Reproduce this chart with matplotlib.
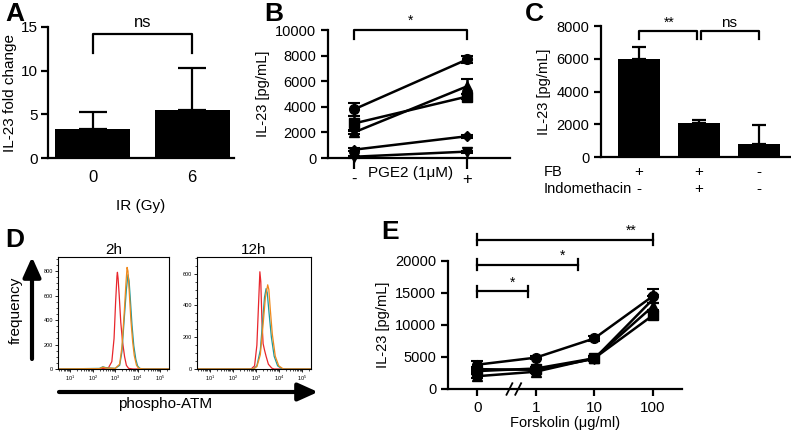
import matplotlib.pyplot as plt
import numpy as np

plt.rcParams['font.family'] = ['Liberation Sans', 'DejaVu Sans']
plt.rcParams['font.size'] = 10.5
plt.rcParams['axes.linewidth'] = 1.6
plt.rcParams['xtick.major.width'] = 1.6
plt.rcParams['ytick.major.width'] = 1.6
plt.rcParams['xtick.major.size'] = 5
plt.rcParams['ytick.major.size'] = 5

# ---- panel A: IL-23 fold change vs IR dose
a_labels = ['0', '6']
a_vals = [3.3, 5.5]
a_err = [2.0, 4.8]

# ---- panel B: paired donors, PGE2
b_labels = ['-', '+']
b_markers = ['o', 's', '^', 'D', 'v']
b_minus = [3800, 2700, 2000, 650, 100]
b_plus = [7700, 4800, 5600, 1700, 500]
b_minus_err = [500, 600, 150, 100, 80]
b_plus_err = [300, 200, 600, 100, 80]

# ---- panel C: FB / indomethacin
c_vals = [6000, 2080, 820]
c_err = [720, 200, 1120]
c_fb = ['+', '+', '-']
c_indo = ['-', '+', '-']

# ---- panel D: phospho-ATM flow histograms (x = log10 intensity)
d2_red_x = [0.45, 2.3, 2.7, 2.85, 2.95, 3.02, 3.08, 3.1, 3.13, 3.18, 3.25, 3.33, 3.42, 3.5, 3.6, 3.8, 5.4]
d2_red_y = [0, 0, 10, 60, 250, 550, 760, 790, 740, 600, 380, 220, 100, 30, 5, 0, 0]
d2_org_x = [0.45, 2.3, 2.45, 2.6, 3.0, 3.2, 3.3, 3.4, 3.48, 3.53, 3.57, 3.63, 3.7, 3.78, 3.85, 3.95, 4.05, 4.3, 5.4]
d2_org_y = [0, 3, 15, 8, 5, 40, 180, 450, 700, 830, 800, 620, 400, 220, 110, 30, 5, 0, 0]
d2_teal_x = [0.45, 2.3, 2.45, 2.6, 3.0, 3.2, 3.3, 3.4, 3.5, 3.57, 3.62, 3.68, 3.75, 3.83, 3.92, 4.0, 4.1, 4.3, 5.4]
d2_teal_y = [0, 5, 18, 10, 5, 30, 140, 400, 650, 770, 720, 560, 360, 190, 80, 25, 5, 0, 0]

d12_red_x = [0.45, 2.8, 2.95, 3.05, 3.12, 3.18, 3.22, 3.27, 3.32, 3.38, 3.45, 3.55, 3.7, 3.8, 5.4]
d12_red_y = [0, 0, 20, 150, 400, 612, 550, 300, 160, 120, 80, 30, 5, 0, 0]
d12_teal_x = [0.45, 2.9, 3.05, 3.2, 3.3, 3.38, 3.45, 3.5, 3.58, 3.68, 3.8, 3.95, 4.15, 5.4]
d12_teal_y = [0, 0, 20, 120, 300, 450, 506, 480, 350, 200, 80, 20, 0, 0]
d12_org_x = [0.45, 2.9, 3.05, 3.2, 3.32, 3.42, 3.52, 3.57, 3.63, 3.72, 3.85, 4.0, 4.2, 5.4]
d12_org_y = [0, 0, 15, 90, 280, 450, 530, 500, 380, 220, 80, 20, 0, 0]

# ---- panel E: forskolin dose
e_labels = ['0', '1', '10', '100']
e_markers = ['o', 's', '^', 'v']
e_vals = [[3800, 4900, 7900, 14500],
          [2800, 3200, 4800, 11500],
          [2000, 2700, 4800, 12900],
          [3100, 3000, 4700, 14000]]
e_err = [[500, 200, 400, 1100],
         [300, 300, 300, 500],
         [300, 200, 300, 500],
         [300, 300, 300, 500]]

W, H = 791, 430
fig = plt.figure(figsize=(W / 100, H / 100), dpi=100)


def box(l, t, r, b):
    return [l / W, 1 - b / H, (r - l) / W, (b - t) / H]


def clean(ax):
    ax.spines['top'].set_visible(False)
    ax.spines['right'].set_visible(False)


def bracket(ax, x0, x1, y, leg):
    ax.plot([x0, x0, x1, x1], [y - leg, y, y, y - leg], color='k', lw=1.6, clip_on=False)


# A
ax = fig.add_axes(box(48, 27, 234, 158))
clean(ax)
ax.bar([0, 1], a_vals, width=0.75, color='k')
ax.errorbar([0, 1], a_vals, yerr=[[0, 0], a_err], fmt='none', ecolor='k',
            elinewidth=1.6, capsize=10, capthick=1.6)
ax.set_xlim(-0.45, 1.42)
ax.set_ylim(0, 15)
ax.set_yticks([0, 5, 10, 15])
ax.set_xticks([0, 1], a_labels)
ax.tick_params(axis='x', length=0, pad=9, labelsize=12)
ax.tick_params(axis='y', labelsize=11, pad=2)
ax.set_xlabel('IR (Gy)', fontsize=11, labelpad=10)
ax.set_ylabel('IL-23 fold change', fontsize=11, labelpad=3)
bracket(ax, 0, 1, 14.2, 2.2)
ax.text(0.5, 14.6, 'ns', ha='center', va='bottom', fontsize=12)

# B
ax = fig.add_axes(box(328, 30, 510, 158))
clean(ax)
for m, y0, y1, e0, e1 in zip(b_markers, b_minus, b_plus, b_minus_err, b_plus_err):
    ax.errorbar([0, 1], [y0, y1], yerr=[e0, e1], color='k', marker=m,
                ms=7 if m != 'D' else 5.5, lw=1.8, capsize=4, capthick=1.5, clip_on=False)
ax.set_xlim(-0.23, 1.38)
ax.set_ylim(0, 10000)
ax.set_yticks([0, 2000, 4000, 6000, 8000, 10000])
ax.set_xticks([0, 1], b_labels)
ax.tick_params(axis='x', length=8, pad=2, labelsize=12)
ax.text(0.5, -0.115, 'PGE2 (1μM)', transform=ax.get_xaxis_transform(), ha='center', va='center', fontsize=11)
ax.set_ylabel('IL-23 [pg/mL]')
bracket(ax, 0, 1, 10000, 700)
ax.text(0.5, 10150, '*', ha='center', va='bottom', fontsize=10)

# C
ax = fig.add_axes(box(601, 26, 790, 157))
clean(ax)
ax.bar([0, 1, 2], c_vals, width=0.7, color='k')
ax.errorbar([0, 1, 2], c_vals, yerr=[[0, 0, 0], c_err], fmt='none', ecolor='k',
            elinewidth=1.6, capsize=5, capthick=1.6)
ax.set_xlim(-0.63, 2.52)
ax.set_ylim(0, 8000)
ax.set_yticks([0, 2000, 4000, 6000, 8000])
ax.set_xticks([])
ax.set_ylabel('IL-23 [pg/mL]')
for i in range(3):
    ax.text(i, -0.115, c_fb[i], transform=ax.get_xaxis_transform(), ha='center', va='center', fontsize=11)
    ax.text(i, -0.245, c_indo[i], transform=ax.get_xaxis_transform(), ha='center', va='center', fontsize=11)
bracket(ax, 0, 0.97, 7700, 500)
bracket(ax, 1.03, 2, 7700, 500)
ax.text(0.5, 7750, '**', ha='center', va='bottom', fontsize=10)
ax.text(1.5, 7750, 'ns', ha='center', va='bottom', fontsize=11)
fig.text(544 / W, 1 - 172 / H, 'FB', ha='left', va='center')
fig.text(544 / W, 1 - 189 / H, 'Indomethacin', ha='left', va='center')

# D
hists = [('2h', box(58, 257, 169, 369), 915, [0, 200, 400, 600, 800],
          [(d2_red_x, d2_red_y, '#e8262c'), (d2_teal_x, d2_teal_y, '#1d9a9c'), (d2_org_x, d2_org_y, '#f0891c')]),
         ('12h', box(197, 257, 311, 369), 705, [0, 200, 400, 600],
          [(d12_red_x, d12_red_y, '#e8262c'), (d12_teal_x, d12_teal_y, '#1d9a9c'), (d12_org_x, d12_org_y, '#f0891c')])]
for title, pos, ytop, yt, curves in hists:
    ax = fig.add_axes(pos)
    for xs, ys, col in curves:
        ax.plot(np.power(10.0, xs), ys, color=col, lw=0.9)
    ax.set_xscale('log')
    ax.set_xlim(10 ** 0.45, 10 ** 5.4)
    ax.set_ylim(0, ytop)
    ax.set_yticks(yt)
    ax.set_xticks([10, 100, 1000, 1e4, 1e5])
    ax.minorticks_on()
    for s in ax.spines.values():
        s.set_linewidth(0.8)
    ax.tick_params(which='major', labelsize=4, length=2.5, width=0.6, pad=1)
    ax.tick_params(which='minor', length=1.3, width=0.5)
    ax.set_title(title, fontsize=11, pad=2)

fig.text(5 / W, 1 - 240 / H, 'D', fontsize=19, fontweight='bold', va='center')
arrow_style = '-|>,head_length=0.8,head_width=0.36'
plt.annotate('', xy=(32, 430 - 257), xytext=(32, 430 - 359), xycoords='figure pixels',
             arrowprops=dict(arrowstyle=arrow_style, lw=3, color='k', mutation_scale=15, shrinkA=0, shrinkB=0))
fig.text(16 / W, 1 - 310 / H, 'frequency', rotation=90, ha='center', va='center', fontsize=11)
plt.annotate('', xy=(318, 430 - 392), xytext=(59, 430 - 392), xycoords='figure pixels',
             arrowprops=dict(arrowstyle=arrow_style, lw=3, color='k', mutation_scale=15, shrinkA=0, shrinkB=0))
fig.text(165 / W, 1 - 404 / H, 'phospho-ATM', ha='center', va='center', fontsize=11)

# E
ax = fig.add_axes(box(448, 261, 682, 389))
clean(ax)
for m, vals, err in zip(e_markers, e_vals, e_err):
    ax.errorbar(range(4), vals, yerr=err, color='k', marker=m, ms=7, lw=1.8,
                capsize=4, capthick=1.5, clip_on=False)
ax.set_xlim(-0.5, 3.5)
ax.set_ylim(0, 20000)
ax.set_yticks([0, 5000, 10000, 15000, 20000])
ax.set_xticks(range(4), e_labels)
ax.tick_params(axis='x', labelsize=11)
ax.set_xlabel('Forskolin (μg/ml)', labelpad=1)
ax.set_ylabel('IL-23 [pg/mL]')
for bx in [0.55, 0.7]:
    ax.plot([bx - 0.05, bx + 0.05], [-900, 900], color='k', lw=1.3, clip_on=False)
for x1, y, txt in [(0.87, 15300, '*'), (1.72, 19400, '*'), (3.0, 23300, '**')]:
    ax.plot([0, x1], [y, y], color='k', lw=1.6, clip_on=False)
    ax.plot([0, 0], [y - 850, y + 850], color='k', lw=1.6, clip_on=False)
    ax.plot([x1, x1], [y - 850, y + 850], color='k', lw=1.6, clip_on=False)
    ax.text(x1 - 0.27 if txt == '*' else x1 - 0.37, y + 250, txt, ha='center', va='bottom', fontsize=10)

for lbl, px, py in [('A', 5, 14), ('B', 264, 14), ('C', 525, 14), ('E', 381, 232)]:
    fig.text(px / W, 1 - py / H, lbl, fontsize=19, fontweight='bold', va='center')

plt.savefig('out.png', dpi=100)
